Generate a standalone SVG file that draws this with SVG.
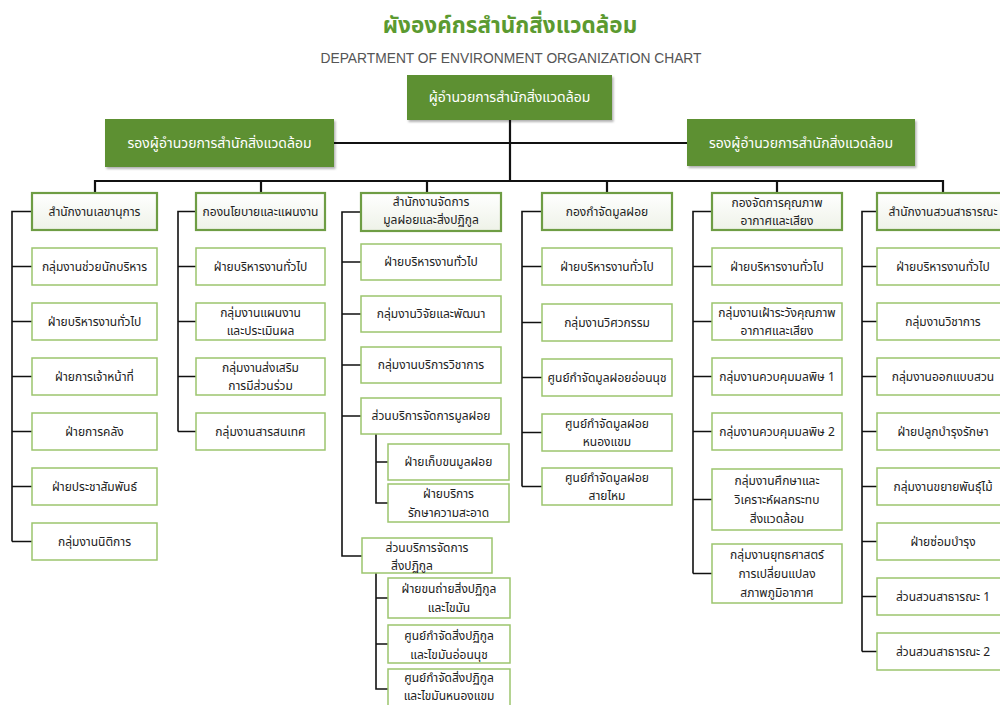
<svg xmlns="http://www.w3.org/2000/svg" width="1000" height="705" viewBox="0 0 1000 705">
<defs>
<linearGradient id="hg" x1="0" y1="0" x2="0" y2="1"><stop offset="0" stop-color="#ffffff"/><stop offset="1" stop-color="#eef2e8"/></linearGradient>
<filter id="sh" x="-5%" y="-10%" width="115%" height="130%"><feDropShadow dx="1.5" dy="2" stdDeviation="1.2" flood-color="#000" flood-opacity="0.3"/></filter>
</defs>
<style>
text{font-family:"Noto Sans Thai","Noto Sans","DejaVu Sans","Liberation Sans",sans-serif;text-anchor:middle}
.title{font-size:22.5px;font-weight:bold;fill:#5b9a30}
.sub{font-size:13.8px;fill:#555;font-family:"Liberation Sans",Arial,sans-serif}
.top rect{fill:#5d9030;filter:url(#sh)}
.top text{fill:#fff;font-size:14px}
.hd rect{fill:url(#hg);stroke:#6e9d44;stroke-width:2.2}
.bx rect{fill:#fff;stroke:#9cc56e;stroke-width:1.5}
.hd text,.bx text{fill:#222;font-size:12px}
.con path{fill:none;stroke:#111;stroke-width:1.6}
.con .main{stroke-width:2.2}
</style>
<rect width="1000" height="705" fill="#fff"/>
<text class="title" x="510" y="33">ผังองค์กรสำนักสิ่งแวดล้อม</text>
<text class="sub" x="511" y="63">DEPARTMENT OF ENVIRONMENT ORGANIZATION CHART</text>

<g class="con" id="connectors">
<path class="main" d="M510 120V181M334 143H687M95 193V181H943V193M261 181V193M427 181V193M607 181V193M777 181V193"/>
<path d="M32 211.5H12V541.5M12 266.5H32M12 321.5H32M12 376.5H32M12 431.5H32M12 486.5H32M12 541.5H32"/>
<path d="M196 211.5H178V431.5M178 266.5H196M178 321.5H196M178 376.5H196M178 431.5H196"/>
<path d="M361 212H342V556H362M342 262H361M342 314H361M342 365H361M342 416H361"/>
<path d="M376 434V503H388M376 462H388"/>
<path d="M376 573V689H388M376 598H388M376 644H388"/>
<path d="M542 211.5H522V486.5M522 266.5H542M522 322.5H542M522 377.5H542M522 432.5H542M522 486.5H542"/>
<path d="M712 211.5H693V573.5M693 266.5H712M693 321.5H712M693 376.5H712M693 431.5H712M693 499.5H712M693 573.5H712"/>
<path d="M877 211.5H862V651.5M862 266.5H877M862 321.5H877M862 376.5H877M862 431.5H877M862 486.5H877M862 541.5H877M862 596.5H877M862 651.5H877"/>
</g>

<g class="top" id="director"><rect x="407" y="75" width="205" height="45"/><text x="509.5" y="102">ผู้อำนวยการสำนักสิ่งแวดล้อม</text></g>
<g class="top" id="deputy-left"><rect x="105" y="119" width="229" height="48"/><text x="219.5" y="148">รองผู้อำนวยการสำนักสิ่งแวดล้อม</text></g>
<g class="top" id="deputy-right"><rect x="687" y="119" width="228" height="47"/><text x="801" y="148">รองผู้อำนวยการสำนักสิ่งแวดล้อม</text></g>

<g class="hd" id="c1-h"><rect x="32" y="193" width="125" height="37"/><text x="94.5" y="215.5">สำนักงานเลขานุการ</text></g>
<g class="bx" id="c1-1"><rect x="32" y="248" width="125" height="37"/><text x="94.5" y="270.5">กลุ่มงานช่วยนักบริหาร</text></g>
<g class="bx" id="c1-2"><rect x="32" y="303" width="125" height="37"/><text x="94.5" y="325.5">ฝ่ายบริหารงานทั่วไป</text></g>
<g class="bx" id="c1-3"><rect x="32" y="358" width="125" height="37"/><text x="94.5" y="380.5">ฝ่ายการเจ้าหน้าที่</text></g>
<g class="bx" id="c1-4"><rect x="32" y="413" width="125" height="37"/><text x="94.5" y="435.5">ฝ่ายการคลัง</text></g>
<g class="bx" id="c1-5"><rect x="32" y="468" width="125" height="37"/><text x="94.5" y="490.5">ฝ่ายประชาสัมพันธ์</text></g>
<g class="bx" id="c1-6"><rect x="32" y="523" width="125" height="37"/><text x="94.5" y="545.5">กลุ่มงานนิติการ</text></g>

<g class="hd" id="c2-h"><rect x="196" y="193" width="129" height="37"/><text x="260.5" y="215.5">กองนโยบายและแผนงาน</text></g>
<g class="bx" id="c2-1"><rect x="196" y="248" width="129" height="37"/><text x="260.5" y="270.5">ฝ่ายบริหารงานทั่วไป</text></g>
<g class="bx" id="c2-2"><rect x="196" y="303" width="129" height="37"/><text x="260.5" y="317">กลุ่มงานแผนงาน</text><text x="260.5" y="335">และประเมินผล</text></g>
<g class="bx" id="c2-3"><rect x="196" y="358" width="129" height="37"/><text x="260.5" y="372">กลุ่มงานส่งเสริม</text><text x="260.5" y="390">การมีส่วนร่วม</text></g>
<g class="bx" id="c2-4"><rect x="196" y="413" width="129" height="37"/><text x="260.5" y="435.5">กลุ่มงานสารสนเทศ</text></g>

<g class="hd" id="c3-h"><rect x="361" y="193" width="140" height="38"/><text x="431" y="206">สำนักงานจัดการ</text><text x="431" y="224">มูลฝอยและสิ่งปฏิกูล</text></g>
<g class="bx" id="c3-1"><rect x="361" y="244" width="140" height="36"/><text x="431" y="266">ฝ่ายบริหารงานทั่วไป</text></g>
<g class="bx" id="c3-2"><rect x="361" y="296" width="140" height="36"/><text x="431" y="318">กลุ่มงานวิจัยและพัฒนา</text></g>
<g class="bx" id="c3-3"><rect x="361" y="347" width="140" height="36"/><text x="431" y="369">กลุ่มงานบริการวิชาการ</text></g>
<g class="bx" id="c3-4"><rect x="361" y="398" width="140" height="36"/><text x="431" y="420">ส่วนบริการจัดการมูลฝอย</text></g>
<g class="bx" id="c3-4a"><rect x="388" y="444" width="121" height="36"/><text x="448.5" y="466">ฝ่ายเก็บขนมูลฝอย</text></g>
<g class="bx" id="c3-4b"><rect x="388" y="484" width="121" height="38"/><text x="448.5" y="498">ฝ่ายบริการ</text><text x="448.5" y="517">รักษาความสะอาด</text></g>
<g class="bx" id="c3-5"><rect x="362" y="538" width="130" height="35"/><text x="427" y="552">ส่วนบริการจัดการ</text><text x="412" y="570">สิ่งปฏิกูล</text></g>
<g class="bx" id="c3-5a"><rect x="388" y="578" width="122" height="40"/><text x="449" y="593">ฝ่ายขนถ่ายสิ่งปฏิกูล</text><text x="449" y="612">และไขมัน</text></g>
<g class="bx" id="c3-5b"><rect x="388" y="625" width="122" height="38"/><text x="449" y="640">ศูนย์กำจัดสิ่งปฏิกูล</text><text x="449" y="659">และไขมันอ่อนนุช</text></g>
<g class="bx" id="c3-5c"><rect x="388" y="669" width="122" height="42"/><text x="449" y="682">ศูนย์กำจัดสิ่งปฏิกูล</text><text x="449" y="700">และไขมันหนองแขม</text></g>

<g class="hd" id="c4-h"><rect x="542" y="193" width="130" height="37"/><text x="607" y="215.5">กองกำจัดมูลฝอย</text></g>
<g class="bx" id="c4-1"><rect x="542" y="248" width="130" height="37"/><text x="607" y="270.5">ฝ่ายบริหารงานทั่วไป</text></g>
<g class="bx" id="c4-2"><rect x="542" y="304" width="130" height="37"/><text x="607" y="326.5">กลุ่มงานวิศวกรรม</text></g>
<g class="bx" id="c4-3"><rect x="542" y="359" width="130" height="37"/><text x="607" y="381.5">ศูนย์กำจัดมูลฝอยอ่อนนุช</text></g>
<g class="bx" id="c4-4"><rect x="542" y="414" width="130" height="37"/><text x="607" y="428">ศูนย์กำจัดมูลฝอย</text><text x="607" y="446">หนองแขม</text></g>
<g class="bx" id="c4-5"><rect x="542" y="468" width="130" height="37"/><text x="607" y="482">ศูนย์กำจัดมูลฝอย</text><text x="607" y="500">สายไหม</text></g>

<g class="hd" id="c5-h"><rect x="712" y="193" width="130" height="37"/><text x="777" y="207">กองจัดการคุณภาพ</text><text x="777" y="225">อากาศและเสียง</text></g>
<g class="bx" id="c5-1"><rect x="712" y="248" width="130" height="37"/><text x="777" y="270.5">ฝ่ายบริหารงานทั่วไป</text></g>
<g class="bx" id="c5-2"><rect x="712" y="303" width="130" height="37"/><text x="777" y="317">กลุ่มงานเฝ้าระวังคุณภาพ</text><text x="777" y="335">อากาศและเสียง</text></g>
<g class="bx" id="c5-3"><rect x="712" y="358" width="130" height="37"/><text x="777" y="380.5">กลุ่มงานควบคุมมลพิษ 1</text></g>
<g class="bx" id="c5-4"><rect x="712" y="413" width="130" height="37"/><text x="777" y="435.5">กลุ่มงานควบคุมมลพิษ 2</text></g>
<g class="bx" id="c5-5"><rect x="712" y="469" width="130" height="61"/><text x="777" y="485">กลุ่มงานศึกษาและ</text><text x="777" y="504">วิเคราะห์ผลกระทบ</text><text x="777" y="523">สิ่งแวดล้อม</text></g>
<g class="bx" id="c5-6"><rect x="712" y="544" width="130" height="59"/><text x="777" y="559">กลุ่มงานยุทธศาสตร์</text><text x="777" y="578">การเปลี่ยนแปลง</text><text x="777" y="597">สภาพภูมิอากาศ</text></g>

<g class="hd" id="c6-h"><rect x="877" y="193" width="132" height="37"/><text x="943" y="215.5">สำนักงานสวนสาธารณะ</text></g>
<g class="bx" id="c6-1"><rect x="877" y="248" width="132" height="37"/><text x="943" y="270.5">ฝ่ายบริหารงานทั่วไป</text></g>
<g class="bx" id="c6-2"><rect x="877" y="303" width="132" height="37"/><text x="943" y="325.5">กลุ่มงานวิชาการ</text></g>
<g class="bx" id="c6-3"><rect x="877" y="358" width="132" height="37"/><text x="943" y="380.5">กลุ่มงานออกแบบสวน</text></g>
<g class="bx" id="c6-4"><rect x="877" y="413" width="132" height="37"/><text x="943" y="435.5">ฝ่ายปลูกบำรุงรักษา</text></g>
<g class="bx" id="c6-5"><rect x="877" y="468" width="132" height="37"/><text x="943" y="490.5">กลุ่มงานขยายพันธุ์ไม้</text></g>
<g class="bx" id="c6-6"><rect x="877" y="523" width="132" height="37"/><text x="943" y="545.5">ฝ่ายซ่อมบำรุง</text></g>
<g class="bx" id="c6-7"><rect x="877" y="578" width="132" height="37"/><text x="943" y="600.5">ส่วนสวนสาธารณะ 1</text></g>
<g class="bx" id="c6-8"><rect x="877" y="633" width="132" height="37"/><text x="943" y="655.5">ส่วนสวนสาธารณะ 2</text></g>
</svg>
